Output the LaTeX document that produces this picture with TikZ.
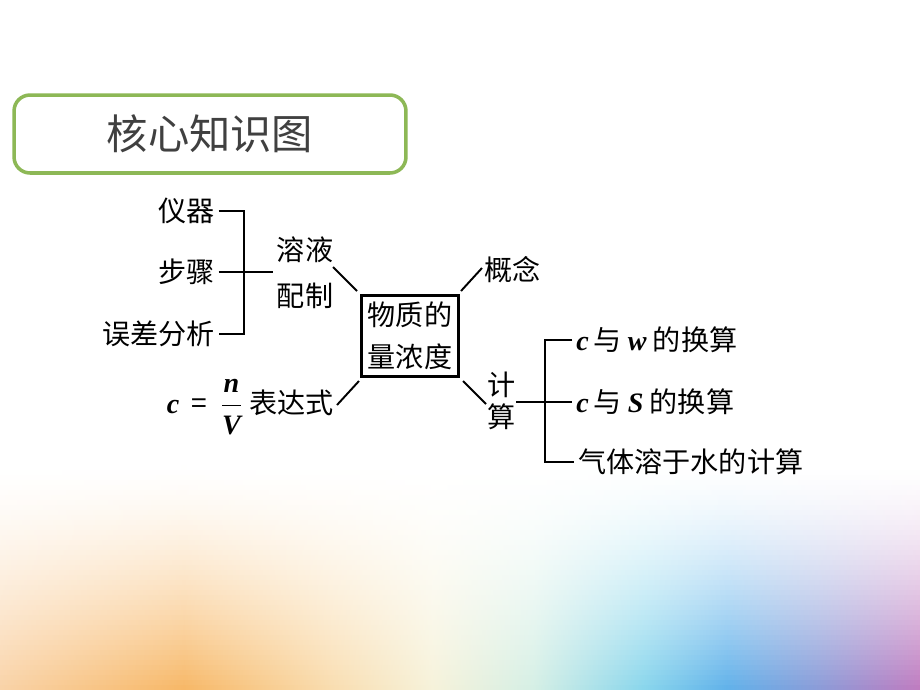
\documentclass[tikz,border=0pt]{standalone}
\usepackage{fontspec}
\setmainfont{Liberation Serif}
\newfontfamily\cjk{Noto Sans CJK SC}
\definecolor{titlegreen}{HTML}{8DB856}
\definecolor{titlegray}{HTML}{404040}
\definecolor{bgA}{HTML}{F9D3A8}
\definecolor{bgB}{HTML}{F7B868}
\definecolor{bgC}{HTML}{F9DDB0}
\definecolor{bgD}{HTML}{F6F2DA}
\definecolor{bgE}{HTML}{D5EFE5}
\definecolor{bgF}{HTML}{8AD6EC}
\definecolor{bgG}{HTML}{62B2EA}
\definecolor{bgH}{HTML}{8C9CD8}
\definecolor{bgI}{HTML}{C07CC0}
\newcommand\latvar[1]{{\rmfamily\bfseries\itshape #1}}
\begin{document}
\begin{tikzpicture}[x=0.02cm,y=-0.02cm,
  lbl/.style={font=\cjk\fontsize{16}{20}\selectfont, inner sep=0pt},
  conn/.style={line width=1.1pt, black}]
\useasboundingbox (0,0) rectangle (920,690);
\fill[white] (0,0) rectangle (920,690);
\foreach \i in {1,...,45} {
  \pgfmathsetmacro\pct{100*(\i/45)^1.5}
  \edef\tmpdecl{\noexpand\pgfdeclarehorizontalshading{bgstrip\i}{100bp}{color(0bp)=(bgA!\pct!white); color(25bp)=(bgA!\pct!white); color(35bp)=(bgB!\pct!white); color(43bp)=(bgC!\pct!white); color(48.5bp)=(bgD!\pct!white); color(54bp)=(bgE!\pct!white); color(60bp)=(bgF!\pct!white); color(64.5bp)=(bgG!\pct!white); color(69.5bp)=(bgH!\pct!white); color(75bp)=(bgI!\pct!white); color(100bp)=(bgI!\pct!white)}}
  \tmpdecl
  \shade[shading=bgstrip\i] (0,465+5*\i-5) rectangle (920,{min(690,465+5*\i+1)});
}
% title
\node[draw=titlegreen, line width=2pt, rounded corners=0.32cm, minimum width=7.84cm, minimum height=1.56cm, inner sep=0pt, text=titlegray, font=\cjk\fontsize{23.5}{26}\selectfont] (title) at (210,134) {核心知识图};
% left bracket
\node[lbl, anchor=east] (yiqi) at (215,211) {仪器};
\node[lbl, anchor=east] (buzhou) at (215,272) {步骤};
\node[lbl, anchor=east] (wucha) at (215,334) {误差分析};
\node[lbl, align=center, font=\cjk\fontsize{16}{26}\selectfont] (rongye) at (305,273) {溶液\\配制};
% centre
\node[draw, line width=1.2pt, align=center, inner sep=0pt, font=\cjk\fontsize{16}{24}\selectfont, minimum width=1.94cm, minimum height=1.62cm] (box) at (410,336) {物质的\\量浓度};
\node[lbl, anchor=west] (gainian) at (484,270) {概念};
\node[lbl, align=center, font=\cjk\fontsize{16}{18.5}\selectfont] (jisuan) at (502,401) {计\\算};
\node[lbl, anchor=east] (expr) at (334,407) {\latvar{c}\ \ =\ \ $\displaystyle\frac{\hbox{\latvar{n}}}{\hbox{\latvar{V}}}$\ 表达式};
% right bracket
\node[lbl, anchor=west] (cw) at (576,340) {\latvar{c}\,与\ \latvar{w}\ 的换算};
\node[lbl, anchor=west] (cs) at (576,402) {\latvar{c}\,与\ \latvar{S}\ 的换算};
\node[lbl, anchor=west] (qiti) at (578,462) {气体溶于水的计算};
% connectors
\coordinate (bx) at (244,0);
\coordinate (jx) at (545,0);
\draw[conn] ([xshift=2pt]yiqi.east) -- (yiqi.east -| bx) -- (wucha.east -| bx) -- ([xshift=2pt]wucha.east);
\draw[conn] ([xshift=2pt]buzhou.east) -- ([xshift=-2pt]buzhou.east -| rongye.west);
\coordinate (d1a) at (333,267); \coordinate (d1b) at (357,291);
\coordinate (d2a) at (461,291); \coordinate (d2b) at (482,268);
\coordinate (d3a) at (463,381); \coordinate (d3b) at (486,404);
\coordinate (d4a) at (337,405); \coordinate (d4b) at (359,381);
\draw[conn] (d1a) -- (d1b);
\draw[conn] (d2a) -- (d2b);
\draw[conn] (d3a) -- (d3b);
\draw[conn] (d4a) -- (d4b);
\draw[conn] ([xshift=-2pt]cw.west) -- (cw.west -| jx) -- (qiti.west -| jx) -- ([xshift=-2pt]qiti.west);
\draw[conn] (jisuan.east |- cs.west) -- ([xshift=-2pt]cs.west);
\end{tikzpicture}
\end{document}
